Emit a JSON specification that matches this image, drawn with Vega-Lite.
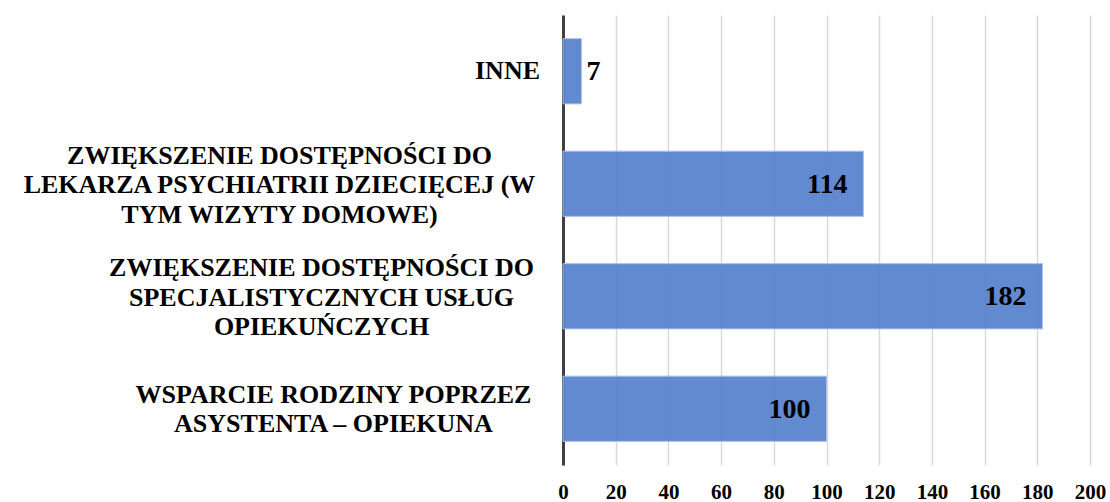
{
  "$schema": "https://vega.github.io/schema/vega-lite/v6.json",
  "autosize": "none",
  "width": 527,
  "height": 450,
  "padding": {"left": 563, "top": 15, "right": 20, "bottom": 37},
  "background": "white",
  "config": {"view": {"stroke": null}},
  "data": {"values": [
    {"kategoria": "INNE", "liczba": 7},
    {"kategoria": "ZWIĘKSZENIE DOSTĘPNOŚCI DO|LEKARZA PSYCHIATRII DZIECIĘCEJ (W|TYM WIZYTY DOMOWE)", "liczba": 114},
    {"kategoria": "ZWIĘKSZENIE DOSTĘPNOŚCI DO|SPECJALISTYCZNYCH USŁUG|OPIEKUŃCZYCH", "liczba": 182},
    {"kategoria": "WSPARCIE RODZINY POPRZEZ|ASYSTENTA – OPIEKUNA", "liczba": 100}
  ]},
  "encoding": {
    "y": {
      "field": "kategoria", "type": "nominal", "sort": null,
      "scale": {"paddingInner": 0.42, "paddingOuter": 0.21},
      "axis": {
        "title": null,
        "ticks": false,
        "domainColor": "#404040",
        "domainWidth": 3,
        "labelExpr": "split(datum.label, '|')",
        "labelFont": "Liberation Serif",
        "labelFontWeight": "bold",
        "labelFontSize": 26,
        "labelLineHeight": 29.5,
        "labelColor": "black",
        "labelLimit": 0,
        "labelAlign": "center",
        "labelBaseline": "middle",
        "labelPadding": {
          "condition": [
            {"test": "datum.value == 'INNE'", "value": 56},
            {"test": "datum.value == 'ZWIĘKSZENIE DOSTĘPNOŚCI DO|LEKARZA PSYCHIATRII DZIECIĘCEJ (W|TYM WIZYTY DOMOWE)'", "value": 284},
            {"test": "datum.value == 'ZWIĘKSZENIE DOSTĘPNOŚCI DO|SPECJALISTYCZNYCH USŁUG|OPIEKUŃCZYCH'", "value": 242}
          ],
          "value": 230
        },
        "labelOffset": {
          "condition": [
            {"test": "datum.value == 'INNE'", "value": 0},
            {"test": "datum.value == 'WSPARCIE RODZINY POPRZEZ|ASYSTENTA – OPIEKUNA'", "value": -14}
          ],
          "value": -28
        }
      }
    }
  },
  "layer": [
    {
      "mark": {"type": "bar", "color": "#5a84cf", "opacity": 0.95, "stroke": "#a9c0ea", "strokeWidth": 1},
      "encoding": {
        "x": {
          "field": "liczba", "type": "quantitative",
          "scale": {"domain": [0, 200], "nice": false},
          "axis": {
            "title": null,
            "values": [0, 20, 40, 60, 80, 100, 120, 140, 160, 180, 200],
            "domain": false,
            "ticks": false,
            "grid": true,
            "gridColor": "#d9d9d9",
            "gridWidth": 1.5,
            "labelFont": "Liberation Serif",
            "labelFontWeight": "bold",
            "labelFontSize": 21,
            "labelColor": "black",
            "labelPadding": 16,
            "labelFlush": false
          }
        }
      }
    },
    {
      "transform": [{"filter": "datum.liczba >= 20"}],
      "mark": {"type": "text", "align": "right", "baseline": "middle", "dx": -16, "dy": 1, "font": "Liberation Serif", "fontWeight": "bold", "fontSize": 28, "color": "black"},
      "encoding": {
        "x": {"field": "liczba", "type": "quantitative"},
        "text": {"field": "liczba", "type": "quantitative"}
      }
    },
    {
      "transform": [{"filter": "datum.liczba < 20"}],
      "mark": {"type": "text", "align": "left", "baseline": "middle", "dx": 5, "dy": 1, "font": "Liberation Serif", "fontWeight": "bold", "fontSize": 28, "color": "black"},
      "encoding": {
        "x": {"field": "liczba", "type": "quantitative"},
        "text": {"field": "liczba", "type": "quantitative"}
      }
    }
  ]
}
